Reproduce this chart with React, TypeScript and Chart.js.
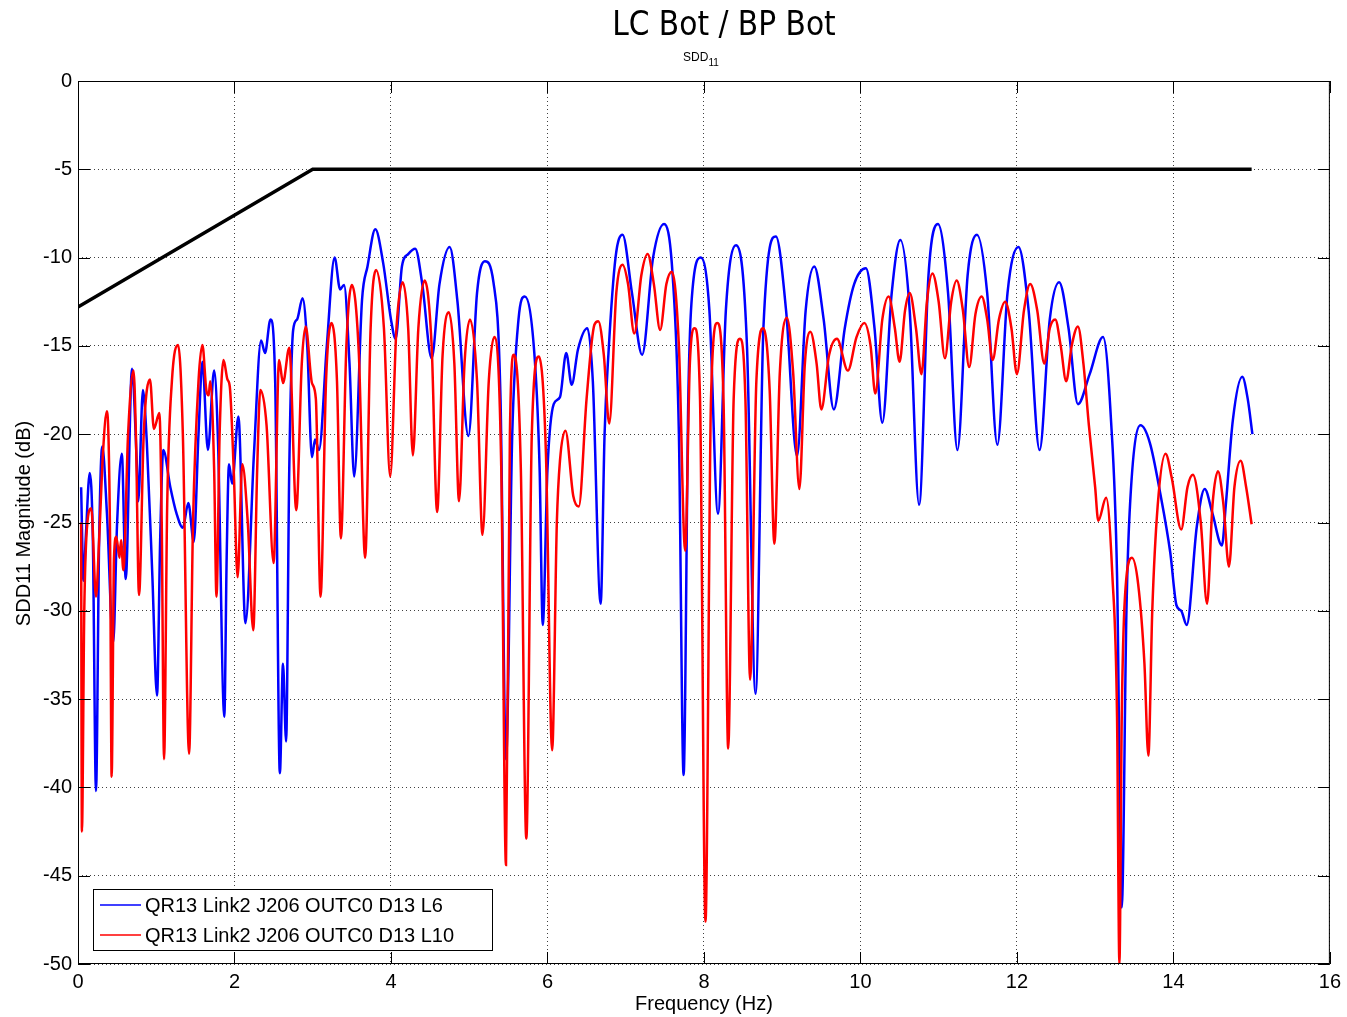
import React, { useEffect, useRef } from "react";
import { Chart, registerables } from "chart.js";
Chart.register(...registerables);

const chartTitle = "LC Bot / BP Bot";
const chartSubtitle = "SDD";
const chartSubtitleSub = "11";
const xAxisTitle = "Frequency (Hz)";
const yAxisTitle = "SDD11 Magnitude (dB)";
const blueLabel = "QR13 Link2 J206 OUTC0 D13 L6";
const redLabel = "QR13 Link2 J206 OUTC0 D13 L10";

const blueFreq = [
  0.04, 0.07, 0.1, 0.15, 0.19, 0.23, 0.27, 0.31, 0.37, 0.45, 0.5, 0.56, 0.61, 0.69, 0.75, 0.77, 0.83, 0.88, 0.95, 1.01,
  1.05, 1.09, 1.18, 1.26, 1.34, 1.41, 1.48, 1.54, 1.59, 1.66, 1.74, 1.79, 1.87, 1.9, 1.93, 1.97, 2.05, 2.14, 2.25, 2.34,
  2.39, 2.46, 2.52, 2.58, 2.62, 2.66, 2.7, 2.75, 2.8, 2.87, 2.93, 2.99, 3.03, 3.08, 3.18, 3.28, 3.35, 3.4, 3.47, 3.53,
  3.63, 3.7, 3.8, 3.9, 4.0, 4.06, 4.14, 4.22, 4.31, 4.4, 4.52, 4.62, 4.75, 4.85, 4.99, 5.1, 5.2, 5.31, 5.4, 5.47,
  5.55, 5.63, 5.71, 5.84, 5.9, 5.94, 6.0, 6.08, 6.16, 6.24, 6.31, 6.39, 6.51, 6.58, 6.68, 6.73, 6.78, 6.87, 6.96, 7.08,
  7.21, 7.35, 7.49, 7.6, 7.68, 7.74, 7.8, 7.84, 7.96, 8.07, 8.18, 8.28, 8.41, 8.55, 8.66, 8.76, 8.92, 9.05, 9.19, 9.3,
  9.41, 9.53, 9.66, 9.8, 9.92, 10.07, 10.18, 10.28, 10.4, 10.51, 10.63, 10.75, 10.87, 10.99, 11.12, 11.24, 11.37, 11.49, 11.62, 11.75,
  11.88, 12.02, 12.15, 12.29, 12.42, 12.54, 12.66, 12.78, 12.93, 13.1, 13.2, 13.28, 13.34, 13.4, 13.44, 13.58, 13.7, 13.83, 13.96, 14.04,
  14.1, 14.17, 14.3, 14.4, 14.5, 14.62, 14.67, 14.76, 14.88, 14.95, 15.01,
];
const blueDb = [
  -23.0, -28.3, -25.8, -22.2, -26, -40.2, -26, -20.7, -24.5, -31.8, -25, -21.1, -28.2, -16.3, -21.5, -23.8, -17.5, -20.5, -28, -34.8,
  -26, -20.9, -23.0, -24.5, -25.3, -23.9, -26.1, -20, -15.9, -20.9, -16.4, -20.5, -36.0, -27, -21.7, -22.8, -19.0, -30.7, -21, -14.7,
  -15.4, -13.5, -17, -39.2, -33, -37.4, -22, -14.1, -13.5, -12.3, -15, -21.3, -20.3, -20.9, -15, -10.0, -11.8, -11.55, -16, -22.4,
  -12.4, -10.5, -8.4, -10.3, -13.5, -14.6, -10.5, -9.8, -9.5, -11.5, -15.7, -11.5, -9.4, -12.5, -20.1, -12, -10.2, -11.4, -18, -38.4,
  -20, -13.5, -12.2, -15.9, -22, -30.8, -22, -18.3, -17.9, -15.4, -17.2, -15.2, -14.0, -17, -29.6, -20, -15.4, -10, -8.7, -12,
  -15.5, -10, -8.1, -11, -20, -39.3, -18, -12.6, -10.0, -13, -24.5, -13, -9.3, -15, -34.7, -14, -8.8, -13, -21.25, -13,
  -10.5, -13.5, -18.6, -14, -11.5, -10.6, -14, -19.35, -12, -9.0, -13, -24.0, -11, -8.1, -12, -20.9, -11, -8.7, -12, -20.6,
  -12, -9.4, -13, -20.9, -13.5, -11.4, -14, -18.3, -16.6, -14.5, -19, -28, -46.8, -30, -24.5, -19.5, -20.5, -23.3, -26.7, -29.7,
  -30.0, -30.8, -25.2, -23.1, -24.5, -26.3, -24, -19.2, -16.75, -18, -20.0,
];

const redFreq = [
  0.04, 0.05, 0.08, 0.12, 0.17, 0.23, 0.27, 0.32, 0.37, 0.41, 0.43, 0.46, 0.49, 0.53, 0.55, 0.58, 0.64, 0.71, 0.74, 0.78,
  0.84, 0.92, 0.97, 1.04, 1.07, 1.1, 1.14, 1.2, 1.28, 1.34, 1.42, 1.47, 1.54, 1.59, 1.64, 1.67, 1.69, 1.74, 1.77, 1.81,
  1.86, 1.91, 1.94, 1.99, 2.04, 2.1, 2.17, 2.24, 2.29, 2.33, 2.41, 2.5, 2.57, 2.62, 2.7, 2.79, 2.86, 2.91, 2.99, 3.04,
  3.1, 3.17, 3.24, 3.31, 3.36, 3.43, 3.5, 3.59, 3.67, 3.74, 3.81, 3.91, 3.99, 4.07, 4.15, 4.22, 4.28, 4.35, 4.43, 4.52,
  4.59, 4.66, 4.74, 4.81, 4.87, 4.94, 5.01, 5.1, 5.17, 5.25, 5.32, 5.41, 5.47, 5.52, 5.57, 5.66, 5.73, 5.8, 5.89, 5.98,
  6.06, 6.12, 6.16, 6.23, 6.33, 6.4, 6.5, 6.6, 6.65, 6.72, 6.79, 6.88, 6.96, 7.03, 7.11, 7.2, 7.28, 7.36, 7.44, 7.52,
  7.59, 7.68, 7.76, 7.82, 7.88, 7.95, 8.02, 8.09, 8.17, 8.25, 8.31, 8.38, 8.46, 8.53, 8.59, 8.67, 8.76, 8.84, 8.9, 8.97,
  9.06, 9.14, 9.22, 9.29, 9.36, 9.44, 9.5, 9.6, 9.7, 9.84, 9.95, 10.05, 10.13, 10.19, 10.28, 10.36, 10.44, 10.5, 10.57, 10.63,
  10.71, 10.78, 10.85, 10.92, 11.0, 11.08, 11.16, 11.23, 11.31, 11.39, 11.47, 11.55, 11.62, 11.69, 11.77, 11.85, 11.93, 12.0, 12.09, 12.17,
  12.26, 12.35, 12.42, 12.49, 12.56, 12.63, 12.7, 12.78, 12.85, 12.92, 13.0, 13.04, 13.14, 13.22, 13.28, 13.31, 13.34, 13.38, 13.47, 13.55,
  13.63, 13.68, 13.73, 13.8, 13.9, 13.98, 14.1, 14.18, 14.25, 14.35, 14.43, 14.5, 14.57, 14.64, 14.71, 14.78, 14.86, 14.93, 15.0,
];
const redDb = [
  -25.0, -42.5, -30, -25, -24.2, -29.2, -26, -21, -18.7, -26, -39.4, -27, -25.8, -27, -26, -27.7, -20, -16.4, -20, -29.1,
  -20, -16.9, -19.7, -18.8, -25, -38.4, -24, -17, -14.95, -20, -38.1, -25, -17, -14.95, -17.5, -17.8, -17, -22, -29.2, -20,
  -15.8, -16.9, -17.3, -22, -28.1, -21.7, -25, -31.1, -22, -17.5, -19.5, -27.3, -15.8, -17.1, -15.1, -24.3, -16, -13.9, -17.1, -18,
  -29.2, -17, -13.7, -17, -25.9, -15, -11.55, -15.5, -27.0, -14, -10.7, -14, -22.4, -14, -11.4, -14, -21.2, -14, -11.3, -15,
  -24.4, -15.5, -13.1, -16, -23.8, -16, -13.5, -17, -25.7, -17, -14.5, -22, -44.4, -20, -15.5, -22, -42.9, -20, -15.6, -21,
  -37.9, -25, -21.5, -19.8, -23.5, -24.1, -18, -13.8, -13.6, -15.5, -19.4, -12, -10.4, -11.5, -14.3, -11, -9.8, -11.5, -14.1, -11.5,
  -10.8, -15, -26.6, -16, -14.0, -18, -47.6, -18, -13.7, -18, -37.8, -18, -14.6, -18, -33.9, -17, -14.0, -17.5, -26.2, -16.5,
  -13.4, -16.5, -23.1, -16, -14.2, -16, -18.6, -15.5, -14.6, -16.4, -14.5, -13.7, -15, -17.7, -13.5, -12.2, -14, -15.9, -13, -12.0,
  -14, -16.6, -12.5, -10.9, -12.5, -15.7, -12.5, -11.3, -13, -16.2, -13.2, -12.2, -13.5, -15.8, -13.5, -12.5, -14, -16.6, -13, -11.5,
  -13, -16.0, -14, -13.5, -15, -17.0, -15, -13.9, -16, -19.5, -23, -24.9, -23.6, -28, -36, -50, -36, -29.3, -27.0, -28.5,
  -33, -38.2, -30, -24, -21.1, -22.5, -25.4, -23, -22.3, -25, -29.6, -24, -22.1, -24, -27.5, -23, -21.5, -23, -25.1,
];

const limitFreq = [0, 3, 15];
const limitDb = [-12.8, -5, -5];

const xTickValues = [0, 2, 4, 6, 8, 10, 12, 14, 16];
const yTickValues = [0, -5, -10, -15, -20, -25, -30, -35, -40, -45, -50];

const toPoints = (xs: number[], ys: number[]) => xs.map((x, i) => ({ x, y: ys[i] }));

const LABEL_FONT = '20px "Liberation Sans", Arial, sans-serif';

const matlabPlugin = {
  id: "matlabDecor",
  beforeDraw(chart: any) {
    const ctx = chart.ctx;
    ctx.save();
    ctx.fillStyle = "#ffffff";
    ctx.fillRect(0, 0, chart.width, chart.height);
    ctx.restore();
  },
  afterDatasetsDraw(chart: any) {
    const ctx = chart.ctx;
    const { left, right, top, bottom } = chart.chartArea;
    const xs = chart.scales.x;
    const ys = chart.scales.y;
    ctx.save();
    ctx.strokeStyle = "#000";
    ctx.lineWidth = 1;
    ctx.strokeRect(left + 0.5, top + 0.5, right - left - 1, bottom - top - 1);
    const tl = 12;
    ctx.beginPath();
    xTickValues.forEach((v) => {
      const px = Math.round(xs.getPixelForValue(v)) + 0.5;
      ctx.moveTo(px, bottom);
      ctx.lineTo(px, bottom - tl);
      ctx.moveTo(px, top);
      ctx.lineTo(px, top + tl);
    });
    yTickValues.forEach((v) => {
      const py = Math.round(ys.getPixelForValue(v)) + 0.5;
      ctx.moveTo(left, py);
      ctx.lineTo(left + tl, py);
      ctx.moveTo(right, py);
      ctx.lineTo(right - tl, py);
    });
    ctx.stroke();

    // legend (blue first, then red)
    const lx = left + 15;
    const ly = bottom - 75;
    const lw = 399;
    const lh = 61;
    ctx.fillStyle = "#fff";
    ctx.fillRect(lx, ly, lw, lh);
    ctx.strokeStyle = "#000";
    ctx.strokeRect(lx + 0.5, ly + 0.5, lw, lh);
    const items = chart.data.datasets
      .filter((d: any) => d.showInLegend)
      .sort((a: any, b: any) => a.legendRank - b.legendRank);
    items.forEach((d: any, i: number) => {
      const cy = ly + 16 + i * 30;
      ctx.strokeStyle = d.borderColor;
      ctx.lineWidth = 1.5;
      ctx.beginPath();
      ctx.moveTo(lx + 7, cy);
      ctx.lineTo(lx + 48, cy);
      ctx.stroke();
      ctx.fillStyle = "#000";
      ctx.font = LABEL_FONT;
      ctx.textBaseline = "middle";
      ctx.textAlign = "left";
      ctx.fillText(d.label, lx + 52, cy + 1);
    });
    ctx.restore();
  },
  afterDraw(chart: any) {
    const ctx = chart.ctx;
    const { left, right, top, bottom } = chart.chartArea;
    const cx = (left + right) / 2;
    ctx.save();
    ctx.fillStyle = "#000";
    ctx.textBaseline = "alphabetic";
    ctx.textAlign = "center";
    ctx.font = '33px Tahoma, "DejaVu Sans Condensed", "DejaVu Sans", sans-serif';
    ctx.fillText(chartTitle, cx + 20, 35);
    const f1 = '12px "Liberation Sans", Arial, sans-serif';
    const f2 = '10px "Liberation Sans", Arial, sans-serif';
    ctx.font = f1;
    const w1 = ctx.measureText(chartSubtitle).width;
    ctx.font = f2;
    const w2 = ctx.measureText(chartSubtitleSub).width;
    const sx = cx - 3 - (w1 + w2) / 2;
    ctx.textAlign = "left";
    ctx.font = f1;
    ctx.fillText(chartSubtitle, sx, 61);
    ctx.font = f2;
    ctx.fillText(chartSubtitleSub, sx + w1, 66);
    ctx.font = LABEL_FONT;
    ctx.textAlign = "center";
    ctx.textBaseline = "middle";
    ctx.fillText(xAxisTitle, cx, bottom + 40);
    ctx.translate(24, (top + bottom) / 2 + 1);
    ctx.rotate(-Math.PI / 2);
    ctx.fillText(yAxisTitle, 0, 0);
    ctx.restore();
  },
};

export default function App() {
  const ref = useRef<HTMLCanvasElement>(null);
  useEffect(() => {
    document.body.style.margin = "0";
    const chart = new Chart(ref.current as HTMLCanvasElement, {
      type: "line",
      data: {
        datasets: [
          {
            label: "limit",
            data: toPoints(limitFreq, limitDb),
            borderColor: "#000000",
            borderWidth: 3.5,
            pointRadius: 0,
            order: 0,
            showInLegend: false,
          } as any,
          {
            label: redLabel,
            data: toPoints(redFreq, redDb),
            borderColor: "#ff0000",
            borderWidth: 2.5,
            pointRadius: 0,
            cubicInterpolationMode: "monotone",
            order: 1,
            showInLegend: true,
            legendRank: 2,
          } as any,
          {
            label: blueLabel,
            data: toPoints(blueFreq, blueDb),
            borderColor: "#0000ff",
            borderWidth: 2.5,
            pointRadius: 0,
            cubicInterpolationMode: "monotone",
            order: 2,
            showInLegend: true,
            legendRank: 1,
          } as any,
        ],
      },
      options: {
        animation: false,
        responsive: false,
        devicePixelRatio: 1,
        layout: { padding: { top: 81, right: 17, left: 0, bottom: 0 } },
        plugins: { legend: { display: false }, tooltip: { enabled: false }, title: { display: false } },
        scales: {
          x: {
            type: "linear",
            min: 0,
            max: 16,
            afterBuildTicks: (s: any) => {
              s.ticks = xTickValues.map((v) => ({ value: v }));
            },
            afterFit: (s: any) => {
              s.height = 53;
            },
            ticks: { font: { family: '"Liberation Sans", Arial, sans-serif', size: 20 }, color: "#000", padding: 6, maxRotation: 0 },
            grid: { color: "rgba(0,0,0,0.75)", lineWidth: 1, drawTicks: false },
            border: { display: false, dash: [1, 3] },
          },
          y: {
            type: "linear",
            min: -50,
            max: 0,
            afterBuildTicks: (s: any) => {
              s.ticks = yTickValues.map((v) => ({ value: v }));
            },
            afterFit: (s: any) => {
              s.width = 78;
            },
            ticks: { font: { family: '"Liberation Sans", Arial, sans-serif', size: 20 }, color: "#000", padding: 6 },
            grid: { color: "rgba(0,0,0,0.75)", lineWidth: 1, drawTicks: false },
            border: { display: false, dash: [1, 3] },
          },
        },
      },
      plugins: [matlabPlugin],
    });
    return () => chart.destroy();
  }, []);
  return (
    <div style={{ width: 1347, height: 1017 }}>
      <canvas ref={ref} width={1347} height={1017} style={{ display: "block", width: 1347, height: 1017 }} />
    </div>
  );
}
